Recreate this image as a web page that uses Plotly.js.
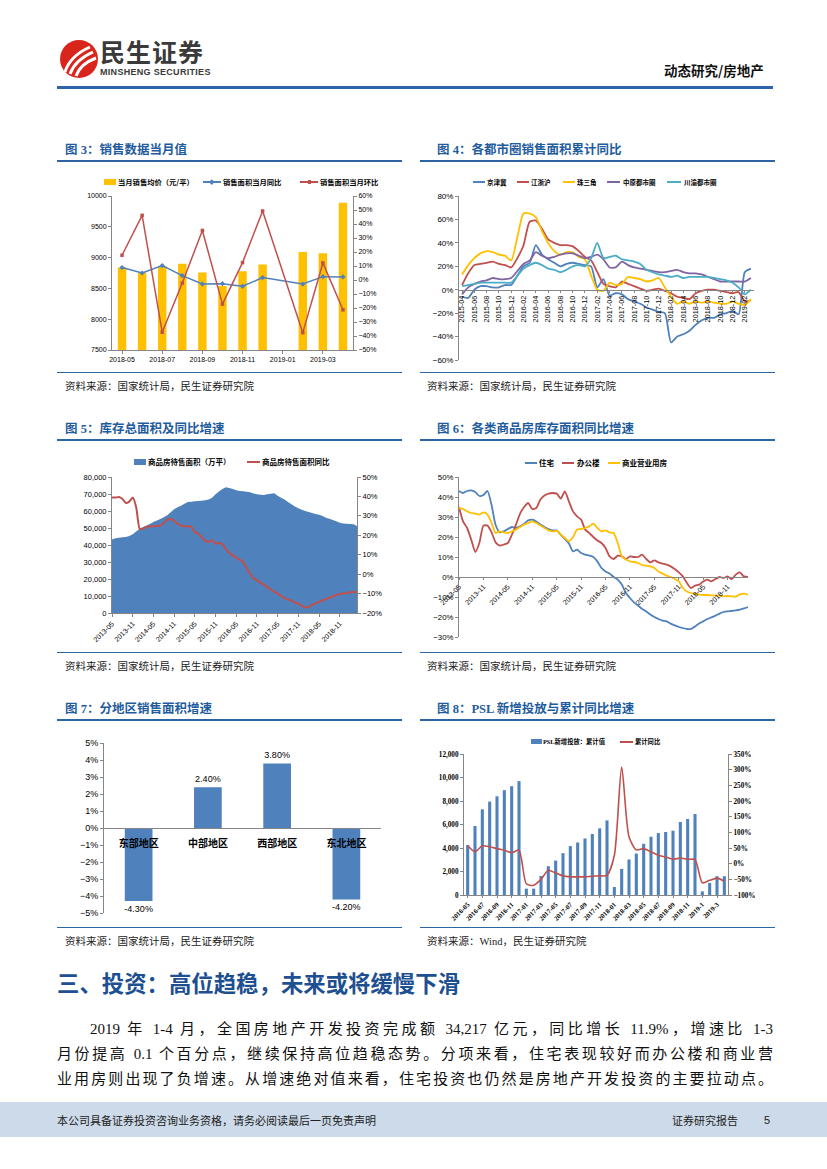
<!DOCTYPE html>
<html><head><meta charset="utf-8">
<script src="https://cdn.plot.ly/plotly-3.0.1.min.js"></script>
<style>
body{margin:0;width:827px;height:1169px;background:#fff;position:relative;overflow:hidden;font-family:"Liberation Serif","Noto Sans CJK SC",serif;}
.ctitle{position:absolute;font-family:"Liberation Serif","Noto Sans CJK SC",serif;font-weight:bold;font-size:12.5px;color:#1F5C9E;line-height:14px;white-space:nowrap;}
.tline{position:absolute;height:2px;background:#2C64A4;}
.bline{position:absolute;height:1px;background:#2C64A4;}
.src{position:absolute;font-family:"Liberation Serif","Noto Sans CJK SC",serif;font-size:10.5px;color:#222;line-height:12px;white-space:nowrap;}
.chart{position:absolute;}
.body{position:absolute;font-family:"Liberation Serif","Noto Sans CJK SC",serif;font-size:15px;color:#111;line-height:25px;height:25px;text-align:justify;text-align-last:justify;white-space:nowrap;}
.lg{position:absolute;font-family:"Noto Sans CJK SC",sans-serif;font-weight:bold;color:#000;white-space:nowrap;line-height:10px;height:10px;z-index:5;}
.sw{position:absolute;z-index:5;}
</style></head>
<body>
<!-- header -->
<svg style="position:absolute;left:56px;top:36px" width="48" height="46">
  <circle cx="23" cy="23" r="19" fill="#D9261C"/>
  <path d="M9 36 Q14 20 34 11" stroke="#fff" stroke-width="3" fill="none"/>
  <path d="M14 38 Q19 24 37 16" stroke="#fff" stroke-width="3" fill="none"/>
  <path d="M20 40 Q24 28 40 22" stroke="#fff" stroke-width="3" fill="none"/>
</svg>
<div style="position:absolute;left:100px;top:38px;font-family:'Noto Sans CJK SC';font-weight:bold;font-size:25px;line-height:27px;color:#3A3A3A;letter-spacing:1px;">民生证券</div>
<div style="position:absolute;left:100px;top:67px;font-family:'Liberation Sans Narrow','Liberation Sans';font-weight:bold;font-size:9px;line-height:10px;color:#3A3A3A;letter-spacing:0.3px;">MINSHENG SECURITIES</div>
<div style="position:absolute;left:664px;top:61px;font-family:'Noto Sans CJK SC';font-weight:bold;font-size:13.5px;line-height:18px;color:#111;">动态研究/房地产</div>
<div style="position:absolute;left:57px;top:86px;width:716px;height:2.5px;background:#2F64A8;"></div>

<!-- titles -->
<div class="ctitle" style="left:65px;top:143px;">图 3：销售数据当月值</div>
<div class="tline" style="left:57px;top:160px;width:345px;"></div>
<div class="ctitle" style="left:437px;top:143px;">图 4：各都市圈销售面积累计同比</div>
<div class="tline" style="left:420px;top:160px;width:355px;"></div>

<div class="ctitle" style="left:65px;top:422px;">图 5：库存总面积及同比增速</div>
<div class="tline" style="left:57px;top:439px;width:345px;"></div>
<div class="ctitle" style="left:437px;top:422px;">图 6：各类商品房库存面积同比增速</div>
<div class="tline" style="left:420px;top:439px;width:355px;"></div>

<div class="ctitle" style="left:65px;top:702px;">图 7：分地区销售面积增速</div>
<div class="tline" style="left:57px;top:719px;width:345px;"></div>
<div class="ctitle" style="left:437px;top:702px;">图 8：PSL 新增投放与累计同比增速</div>
<div class="tline" style="left:420px;top:719px;width:355px;"></div>

<div class="bline" style="left:57px;top:372px;width:345px;"></div>
<div class="bline" style="left:420px;top:372px;width:355px;"></div>
<div class="bline" style="left:57px;top:652px;width:345px;"></div>
<div class="bline" style="left:420px;top:652px;width:355px;"></div>
<div class="bline" style="left:57px;top:927px;width:345px;"></div>
<div class="bline" style="left:420px;top:927px;width:355px;"></div>

<div id="c3" class="chart" style="left:57px;top:165px;width:345px;height:210px;"></div>
<div id="c4" class="chart" style="left:420px;top:165px;width:360px;height:205px;"></div>
<div id="c5" class="chart" style="left:57px;top:445px;width:345px;height:210px;"></div>
<div id="c6" class="chart" style="left:420px;top:445px;width:360px;height:210px;"></div>
<div id="c7" class="chart" style="left:57px;top:725px;width:330px;height:200px;"></div>
<div id="c8" class="chart" style="left:420px;top:725px;width:360px;height:200px;"></div>

<!-- legends -->
<div class="sw" style="left:104px;top:179px;width:12px;height:6px;background:#FFC000;"></div>
<div class="lg" style="left:118px;top:177px;font-size:7.3px;">当月销售均价（元/平）</div>
<div class="sw" style="left:203px;top:181px;width:18px;height:1.5px;background:#4F81BD;"></div>
<div class="sw" style="left:210px;top:180px;width:3.5px;height:3.5px;background:#4F81BD;transform:rotate(45deg);"></div>
<div class="lg" style="left:223px;top:177px;font-size:7.3px;">销售面积当月同比</div>
<div class="sw" style="left:300px;top:181px;width:18px;height:1.5px;background:#C0504D;"></div>
<div class="sw" style="left:307.5px;top:180px;width:3.5px;height:3.5px;background:#C0504D;"></div>
<div class="lg" style="left:320px;top:177px;font-size:7.3px;">销售面积当月环比</div>

<div class="sw" style="left:473px;top:181px;width:12px;height:2px;background:#4F81BD;"></div>
<div class="lg" style="left:487px;top:177px;font-size:6.5px;">京津冀</div>
<div class="sw" style="left:517px;top:181px;width:12px;height:2px;background:#C0504D;"></div>
<div class="lg" style="left:531px;top:177px;font-size:6.5px;">江浙沪</div>
<div class="sw" style="left:563px;top:181px;width:12px;height:2px;background:#FFC000;"></div>
<div class="lg" style="left:577px;top:177px;font-size:6.5px;">珠三角</div>
<div class="sw" style="left:607px;top:181px;width:13px;height:2px;background:#8064A2;"></div>
<div class="lg" style="left:623px;top:177px;font-size:6.5px;">中原都市圈</div>
<div class="sw" style="left:667px;top:181px;width:14px;height:2px;background:#4BACC6;"></div>
<div class="lg" style="left:684px;top:177px;font-size:6.5px;">川渝都市圈</div>

<div class="sw" style="left:134px;top:459px;width:12px;height:6px;background:#4F81BD;"></div>
<div class="lg" style="left:148px;top:457px;font-size:7.5px;">商品房待售面积（万平）</div>
<div class="sw" style="left:247px;top:461px;width:13px;height:2px;background:#C0504D;"></div>
<div class="lg" style="left:262px;top:457px;font-size:7.5px;">商品房待售面积同比</div>

<div class="sw" style="left:525px;top:462px;width:12px;height:2px;background:#4F81BD;"></div>
<div class="lg" style="left:539px;top:458px;font-size:7.5px;">住宅</div>
<div class="sw" style="left:562px;top:462px;width:12px;height:2px;background:#C0504D;"></div>
<div class="lg" style="left:577px;top:458px;font-size:7.5px;">办公楼</div>
<div class="sw" style="left:608px;top:462px;width:12px;height:2px;background:#FFC000;"></div>
<div class="lg" style="left:622px;top:458px;font-size:7.5px;">商业营业用房</div>

<div class="sw" style="left:531px;top:739px;width:11px;height:5px;background:#4F81BD;"></div>
<div class="lg" style="left:543px;top:737px;font-size:6.3px;font-family:'Liberation Serif','Noto Sans CJK SC';">PSL新增投放：累计值</div>
<div class="sw" style="left:620px;top:741px;width:13px;height:1.8px;background:#C0504D;"></div>
<div class="lg" style="left:635px;top:737px;font-size:6.3px;">累计同比</div>

<div class="src" style="left:65px;top:381px;">资料来源：国家统计局，民生证券研究院</div>
<div class="src" style="left:427px;top:381px;">资料来源：国家统计局，民生证券研究院</div>
<div class="src" style="left:65px;top:661px;">资料来源：国家统计局，民生证券研究院</div>
<div class="src" style="left:427px;top:661px;">资料来源：国家统计局，民生证券研究院</div>
<div class="src" style="left:65px;top:936px;">资料来源：国家统计局，民生证券研究院</div>
<div class="src" style="left:427px;top:936px;">资料来源：Wind，民生证券研究院</div>

<div style="position:absolute;left:57px;top:970px;font-family:'Liberation Serif','Noto Sans CJK SC';font-weight:bold;font-size:22.4px;line-height:30px;color:#1D4F91;white-space:nowrap;">三、投资：高位趋稳，未来或将缓慢下滑</div>
<div class="body" style="left:90px;top:1017px;width:683px;">2019 年 1-4 月，全国房地产开发投资完成额 34,217 亿元，同比增长 11.9%，增速比 1-3</div>
<div class="body" style="left:57px;top:1042px;width:716px;">月份提高 0.1 个百分点，继续保持高位趋稳态势。分项来看，住宅表现较好而办公楼和商业营</div>
<div class="body" style="left:57px;top:1067px;width:716px;">业用房则出现了负增速。从增速绝对值来看，住宅投资也仍然是房地产开发投资的主要拉动点。</div>

<div style="position:absolute;left:0;top:1102px;width:827px;height:35px;background:#CCDAE9;"></div>
<div style="position:absolute;left:57px;top:1112px;font-family:'Noto Sans CJK SC';font-size:11px;line-height:16px;color:#222;white-space:nowrap;">本公司具备证券投资咨询业务资格，请务必阅读最后一页免责声明</div>
<div style="position:absolute;left:672px;top:1112px;font-family:'Noto Sans CJK SC';font-size:11px;line-height:16px;color:#222;white-space:nowrap;">证券研究报告</div>
<div style="position:absolute;left:764px;top:1112px;font-family:'Liberation Sans';font-size:11px;line-height:16px;color:#222;">5</div>

<script>
// ---------- Chart 3 data ----------
const c3Months = ['2018-05','2018-06','2018-07','2018-08','2018-09','2018-10','2018-11','2018-12','2019-01','2019-02','2019-03','2019-04'];
const c3Price = [8840, 8760, 8860, 8900, 8760, 8540, 8780, 8890, null, 9090, 9070, 9890];
const c3YoY = [8.9, 5.0, 10.3, 3.1, -2.9, -2.6, -4.5, 1.7, null, -2.9, 2.4, 2.2];
const c3MoM = [17.7, 46.2, -37.3, -2.2, 35.4, -17.2, 12.4, 49.3, null, -37.6, 12.2, -21.3];

// ---------- Chart 4 data ----------
const c4Months = ['2015-04','2015-05','2015-06','2015-07','2015-08','2015-09','2015-10','2015-11','2015-12',
 '2016-01','2016-02','2016-03','2016-04','2016-05','2016-06','2016-07','2016-08','2016-09','2016-10','2016-11','2016-12',
 '2017-01','2017-02','2017-03','2017-04','2017-05','2017-06','2017-07','2017-08','2017-09','2017-10','2017-11','2017-12',
 '2018-01','2018-02','2018-03','2018-04','2018-05','2018-06','2018-07','2018-08','2018-09','2018-10','2018-11','2018-12',
 '2019-01','2019-02','2019-03'];
const c4JJJ = [-6,-7,0,3,3,2,2,4,4, 12,20,23,38,30,26,23,20,22,23,22,21, 20,2,9,-5,-3,-4,-8,-10,-12,-15,-17,-19, -20,-45,-40,-38,-35,-30,-26,-24,-24,-21,-20,-18, -21,15,18];
const c4JZH = [4,14,21,22,23,24,22,21,19, 27,38,58,59,52,43,40,38,38,37,33,28, 25,15,5,3,2,7,5,3,1,-1,0,1, -1,-3,-6,-7,-8,-3,-1,0,0,-1,-2,-3, -2,-10,-9];
const c4ZSJ = [13,21,27,31,33,32,30,29,25, 45,65,65,62,50,40,33,30,32,32,28,26, 12,0,-1,6,4,5,11,10,9,7,8,10, 2,-6,-12,-10,-12,-10,-11,-10,-11,-12,-12,-10, -12,-13,-8];
const c4ZY = [-4,2,5,7,8,10,9,9,10, 16,22,25,32,29,27,28,30,31,31,29,27, 28,30,26,19,19,24,21,19,18,17,16,15, 15,16,17,15,14,14,13,11,9,7,7,7, 7,7,10];
const c4CY = [3,4,5,6,6,6,6,6,6, 12,18,21,23,21,18,17,15,17,20,21,20, 27,40,27,28,29,26,25,24,22,17,15,13, 12,11,12,10,11,11,11,11,10,9,8,6, 2,-4,0];

// ---------- Chart 5 / 6 data ----------
const c56Months = ['2013-05','2013-06','2013-07','2013-08','2013-09','2013-10','2013-11','2013-12',
 '2014-01','2014-02','2014-03','2014-04','2014-05','2014-06','2014-07','2014-08','2014-09','2014-10','2014-11','2014-12',
 '2015-01','2015-02','2015-03','2015-04','2015-05','2015-06','2015-07','2015-08','2015-09','2015-10','2015-11','2015-12',
 '2016-01','2016-02','2016-03','2016-04','2016-05','2016-06','2016-07','2016-08','2016-09','2016-10','2016-11','2016-12',
 '2017-01','2017-02','2017-03','2017-04','2017-05','2017-06','2017-07','2017-08','2017-09','2017-10','2017-11','2017-12',
 '2018-01','2018-02','2018-03','2018-04','2018-05','2018-06','2018-07','2018-08','2018-09','2018-10','2018-11','2018-12',
 '2019-01','2019-02','2019-03','2019-04'];
const c5Stock = [43300,44000,44300,44500,44700,45300,46300,48000,49600,50600,
 51400,52400,53500,54400,55300,56300,57500,59200,61000,62200,
 63100,64300,65300,65500,65700,65900,66100,66300,66700,67800,
 69800,71500,72900,73900,73500,72900,72200,71800,71600,71300,
 71000,70300,69800,69500,69400,69800,70200,70400,69000,67800,
 66700,65300,63900,62700,61600,60800,60000,59400,58800,58300,
 57800,57000,56100,55400,54700,53900,53100,52700,52500,52400,
 52200,51200];
const c5YoY = [39.4,39.4,39.7,38.8,36.6,37.3,39.4,34.6,23.4,23.4,
 24.3,24.6,24.6,24.8,25,26.3,28,28.4,27.4,26,
 25,24.6,24.6,24.3,21.7,20.8,19.1,17.1,16.6,17.4,
 15.7,16,15.4,13.1,10.9,9.7,8.5,7.5,6.3,3.3,
 0.3,-2.1,-3.2,-4.4,-5.4,-6.6,-7.8,-9,-10,-11.2,
 -12.3,-13,-13.6,-14.5,-15.2,-16.2,-17.1,-16.9,-15.7,-15,
 -14.3,-13.5,-12.8,-12.1,-11.4,-10.7,-10.2,-10,-9.7,-9.3,
 -9.2,-9.3];
const c6Res = [43,42,43,43.3,42.5,40.5,41,43,36,26,
 22.3,22.8,24,25,24.5,25.3,26.7,28.3,28.7,27.8,
 26.2,25,24,23.3,23.3,21.2,19,16.7,12.8,13.7,
 12,11.2,10.7,10,7.8,4.5,2.8,1.7,0,-1.3,
 -3.8,-8,-10.5,-12.7,-14.3,-16,-17.2,-18.8,-20,-21,
 -21.8,-22.2,-23.3,-24.2,-25,-25.5,-26,-26,-24.7,-23.3,
 -22.2,-21,-20.2,-19.3,-18.3,-17.5,-17.2,-17,-16.7,-16.3,
 -15.7,-15];
const c6Office = [35,27.8,24.5,18.7,12.5,17,25.7,25.7,22.3,17.3,
 15.7,16.2,17,21.2,26.2,31.7,35,37,34,34.5,
 38.7,40.7,41.7,42,41.7,39.2,42.8,37.8,32.8,30.3,
 28.7,23.7,22,20,18.3,17,14.5,10.3,9,10.7,
 10.3,9,10.3,10,10,11.2,9,7.3,8.3,7.3,
 6.7,6.2,5.3,4,2.3,0.3,-3,-5.5,-4.3,-3.8,
 -2.2,-1.3,-2.2,-1,0,-0.5,0.3,-1,1.2,2.3,
 0.3,0];
const c6Comm = [34.5,34,32.8,32,31.7,31.2,32.3,31.2,27,22,
 22.8,22.3,22,22.8,23.7,25,26.2,27,27.8,27,
 25.7,24.5,23.3,22.8,23.2,21.2,19.5,17.8,20,23.7,
 24,24.5,25.3,26.7,24.5,22.8,23.3,22.3,22,17,
 10.3,8.7,7.8,7.5,7,6,5.7,5.3,4.5,2.8,
 1.7,0.7,0,-1,-2.2,-5.5,-7.2,-8,-8.5,-8.8,
 -9,-9,-9.2,-9.3,-9.3,-9.7,-9.5,-9.7,-9.8,-8.7,
 -8.3,-8.8];

// ---------- Chart 7 data ----------
const c7Regions = ['东部地区','中部地区','西部地区','东北地区'];
const c7Growth = [-4.3, 2.4, 3.8, -4.2];

// ---------- Chart 8 data ----------
const c8Months = ['2016-05','2016-06','2016-07','2016-08','2016-09','2016-10','2016-11','2016-12',
 '2017-01','2017-02','2017-03','2017-04','2017-05','2017-06','2017-07','2017-08','2017-09','2017-10','2017-11','2017-12',
 '2018-01','2018-02','2018-03','2018-04','2018-05','2018-06','2018-07','2018-08','2018-09','2018-10','2018-11','2018-12',
 '2019-1','2019-2','2019-3','2019-4'];
const c8PSL = [4250,5870,7290,7950,8400,8920,9260,9690,
 540,540,1620,2450,2930,3560,4160,4470,4810,5190,5670,6350,
 680,2220,3020,3530,4360,4960,5270,5360,5470,6210,6470,6890,
 310,1030,1600,1600];
const c8YoY = [58,38,57,54,48,43,35,43,
 -64,-69,-50,-21,-30,-39,-42,-42,-42,-40,-39,-37,
 26,308,86,44,48,38,27,21,14,18,14,13,
 -61,-53,-46,-56];

// ---------- helpers ----------
const FS = 'Liberation Sans, Noto Sans CJK SC, sans-serif';
const FSERIF = 'Liberation Serif, Noto Sans CJK SC, serif';
const AX = '#868686';
function ax(extra){
  return Object.assign({showline:true, linecolor:AX, linewidth:1, ticks:'outside', ticklen:3, tickcolor:AX,
    showgrid:false, zeroline:false, fixedrange:true, automargin:false,
    tickfont:{family:FS, size:7, color:'#000'}}, extra);
}
function every(arr, step){ return arr.filter((_, i) => i % step === 0); }
function base(w, h, m){
  return {width:w, height:h, margin:Object.assign({autoexpand:false, pad:0}, m),
    paper_bgcolor:'rgba(0,0,0,0)', plot_bgcolor:'rgba(0,0,0,0)', showlegend:false,
    font:{family:FS, size:7, color:'#000'}};
}
const cfg = {staticPlot:true, displayModeBar:false};

// ---------- Chart 3 ----------
Plotly.newPlot('c3', [
  {type:'bar', x:c3Months, y:c3Price, name:'当月销售均价（元/平）', marker:{color:'#FFC000'}},
  {type:'scatter', mode:'lines+markers', x:c3Months, y:c3YoY, yaxis:'y2', name:'销售面积当月同比', connectgaps:true,
    line:{color:'#4F81BD', width:1.5}, marker:{symbol:'diamond', size:4, color:'#4F81BD'}},
  {type:'scatter', mode:'lines+markers', x:c3Months, y:c3MoM, yaxis:'y2', name:'销售面积当月环比', connectgaps:true,
    line:{color:'#C0504D', width:1.5}, marker:{symbol:'square', size:3.5, color:'#C0504D'}}
], Object.assign(base(345, 210, {l:55, r:49, t:31, b:25}), {
  bargap:0.58,
  xaxis: ax({type:'category', range:[-0.5, 11.5], tickvals:every(c3Months, 2), ticktext:every(c3Months, 2), tickangle:0}),
  yaxis: ax({range:[7500, 10000], dtick:500, tickformat:'d'}),
  yaxis2: ax({overlaying:'y', side:'right', range:[-50, 60], dtick:10, ticksuffix:'%'})
}), cfg);

// ---------- Chart 4 ----------
const c4Series = [
  ['京津冀', c4JJJ, '#4F81BD'], ['江浙沪', c4JZH, '#C0504D'], ['珠三角', c4ZSJ, '#FFC000'],
  ['中原都市圈', c4ZY, '#8064A2'], ['川渝都市圈', c4CY, '#4BACC6']];
Plotly.newPlot('c4', c4Series.map(s => ({type:'scatter', mode:'lines', x:c4Months, y:s[1], name:s[0],
  line:{color:s[2], width:1.8, shape:'spline', smoothing:0.6}})),
  Object.assign(base(360, 205, {l:39, r:26, t:31, b:10}), {
  xaxis: ax({type:'category', range:[-0.5, 47.5], tickvals:every(c4Months, 2), ticktext:every(c4Months, 2),
    tickangle:-90, anchor:'free', position:60/140, ticklen:2, tickfont:{family:FS, size:7.3, color:'#000'}}),
  yaxis: ax({range:[-60, 80], dtick:20, ticksuffix:'%', tickfont:{family:FS, size:8, color:'#000'}})
}), cfg);

// ---------- Chart 5 ----------
Plotly.newPlot('c5', [
  {type:'scatter', mode:'none', x:c56Months, y:c5Stock, fill:'tozeroy', fillcolor:'#4F81BD', name:'商品房待售面积（万平）'},
  {type:'scatter', mode:'lines', x:c56Months, y:c5YoY, yaxis:'y2', name:'商品房待售面积同比',
    line:{color:'#C0504D', width:2, shape:'spline', smoothing:0.5}}
], Object.assign(base(345, 210, {l:55, r:45, t:32, b:42}), {
  xaxis: ax({type:'category', range:[0, 71], tickvals:every(c56Months, 6), ticktext:every(c56Months, 6), tickangle:-45,
    tickfont:{family:FS, size:7, color:'#000'}}),
  yaxis: ax({range:[0, 80000], dtick:10000, tickformat:',d', tickfont:{family:FS, size:7.5, color:'#000'}}),
  yaxis2: ax({overlaying:'y', side:'right', range:[-20, 50], dtick:10, ticksuffix:'%', tickfont:{family:FS, size:7.5, color:'#000'}})
}), cfg);

// ---------- Chart 6 ----------
const c6Series = [['住宅', c6Res, '#4F81BD'], ['办公楼', c6Office, '#C0504D'], ['商业营业用房', c6Comm, '#FFC000']];
Plotly.newPlot('c6', c6Series.map(s => ({type:'scatter', mode:'lines', x:c56Months, y:s[1], name:s[0],
  line:{color:s[2], width:1.8, shape:'spline', smoothing:0.6}})),
  Object.assign(base(360, 210, {l:39, r:32, t:32, b:18}), {
  xaxis: ax({type:'category', range:[0, 71], tickvals:every(c56Months, 6), ticktext:every(c56Months, 6), tickangle:-45,
    anchor:'free', position:30/80, ticklen:2, tickfont:{family:FS, size:7, color:'#000'}}),
  yaxis: ax({range:[-30, 50], dtick:10, ticksuffix:'%', tickfont:{family:FS, size:7.8, color:'#000'}})
}), cfg);

// ---------- Chart 7 ----------
Plotly.newPlot('c7', [
  {type:'bar', x:c7Regions, y:c7Growth, marker:{color:'#4F81BD'}, texttemplate:'%{y:.2f}%', textposition:'outside',
    textfont:{family:FS, size:9, color:'#000'}, cliponaxis:false, constraintext:'none', showlegend:false}
], Object.assign(base(330, 200, {l:47, r:6, t:18, b:12}), {
  bargap:0.6,
  xaxis: ax({type:'category', range:[-0.5, 3.5], anchor:'free', position:0.5, ticks:'', ticklabelstandoff:6,
    tickfont:{family:'Noto Sans CJK SC', size:10, color:'#000', weight:'bold'}}),
  yaxis: ax({range:[-5, 5], dtick:1, ticksuffix:'%', tickfont:{family:FS, size:9, color:'#000'}})
}), cfg);

// ---------- Chart 8 ----------
Plotly.newPlot('c8', [
  {type:'bar', x:c8Months, y:c8PSL, name:'PSL新增投放：累计值', marker:{color:'#4F81BD'}},
  {type:'scatter', mode:'lines', x:c8Months, y:c8YoY, yaxis:'y2', name:'累计同比',
    line:{color:'#C0504D', width:1.6, shape:'spline', smoothing:0.7}}
], Object.assign(base(360, 200, {l:44, r:52, t:29, b:30}), {
  bargap:0.58,
  xaxis: ax({type:'category', range:[-0.5, 35.5], tickvals:every(c8Months, 2), ticktext:every(c8Months, 2), tickangle:-45,
    ticklen:2, tickfont:{family:FSERIF, size:6.8, color:'#000', weight:'bold'}}),
  yaxis: ax({range:[0, 12000], dtick:2000, tickformat:',d', tickfont:{family:FSERIF, size:7.2, color:'#000', weight:'bold'}}),
  yaxis2: ax({overlaying:'y', side:'right', range:[-100, 350], dtick:50, ticksuffix:'%',
    tickfont:{family:FSERIF, size:7.2, color:'#000', weight:'bold'}})
}), cfg);
</script>
</body></html>
